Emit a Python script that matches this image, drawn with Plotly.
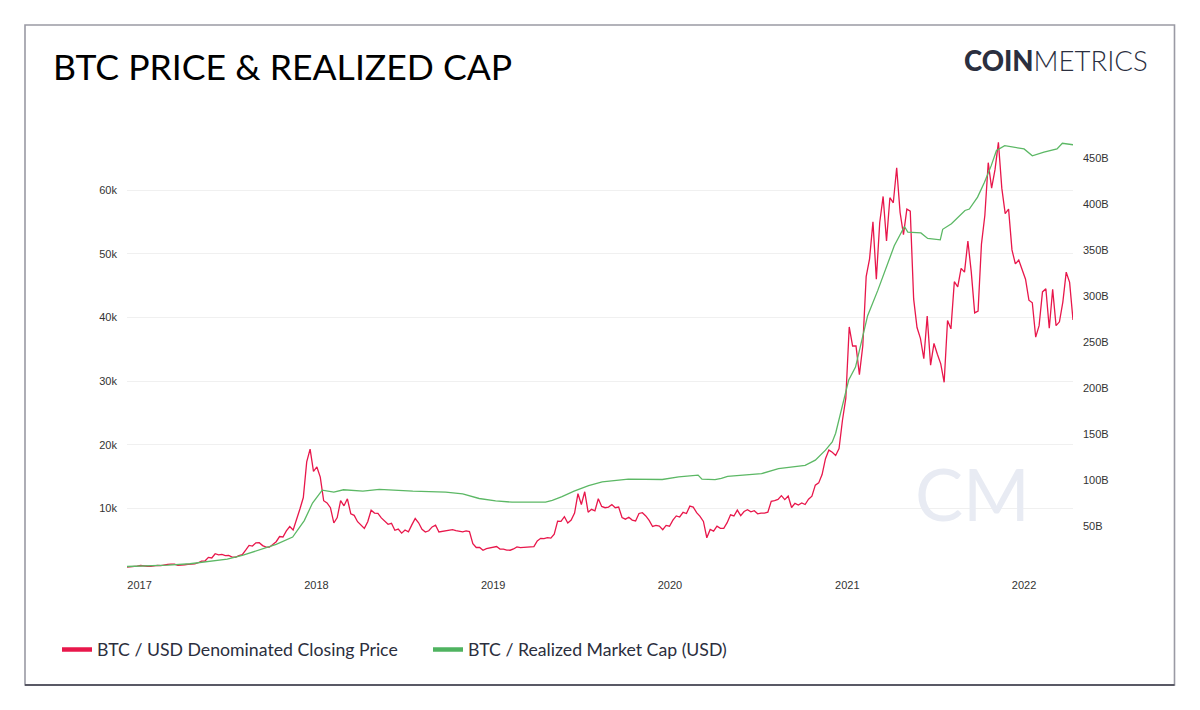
import pandas as pd
import plotly.graph_objects as go

# ---------------- data ----------------
price_start = "2016-12-06"
# weekly BTC/USD closing price (Tuesdays)
price_usd = [
    # 2016 Dec
    758, 780, 800, 930,
    # 2017
    1020, 905, 905, 890, 965, 1050, 1000, 1120, 1190, 1230, 1240, 1050, 1045,
    1140, 1200, 1210, 1280, 1450, 1720, 1730, 2290, 2200, 2870, 2680, 2760, 2580,
    2600, 2330, 2320, 2560, 2720, 3420, 4180, 4080, 4580, 4600, 4150, 3900, 3900,
    4310, 4760, 5570, 5500, 6450, 7140, 6600, 8100, 9900, 11700, 17300, 19300, 15800,
    # 2018
    16500, 14900, 11200, 10850, 10100, 7700, 8550, 11200, 10400, 11500, 9150, 8900, 7900,
    7400, 6850, 7900, 9700, 9250, 9200, 8500, 8000, 7500, 7650, 6550, 6750, 6100,
    6600, 6300, 7400, 8400, 7730, 6720, 6270, 6480, 7080, 7370, 6290, 6370, 6440,
    6570, 6640, 6490, 6410, 6310, 6470, 6350, 4450, 3850, 3850, 3410, 3670, 3740,
    # 2019
    3840, 4000, 3600, 3580, 3440, 3420, 3620, 3950, 3820, 3850, 3900, 4020, 3990,
    4880, 5290, 5230, 5400, 5320, 5950, 7990, 7950, 8700, 7700, 8150, 9260, 12300,
    10600, 12600, 9400, 9850, 9600, 11500, 10300, 10100, 10200, 10600, 10100, 10200, 8550,
    8300, 8600, 8150, 8020, 9200, 9320, 8800, 8100, 7150, 7320, 7200, 6640, 7320, 7190,
    # 2020
    8150, 8810, 8640, 9370, 9180, 10350, 10200, 9320, 8750, 7940, 5380, 6680, 6430,
    7200, 6850, 6850, 7750, 8990, 8800, 9730, 8850, 9500, 9790, 9460, 9630, 9140,
    9250, 9250, 9390, 11100, 11200, 11400, 11990, 11370, 11930, 10130, 10790, 10530, 10840,
    10600, 11430, 11900, 13650, 14000, 15300, 17800, 19150, 18800, 18300, 19400, 23800, 27300,
    # 2021
    38500, 35500, 35500, 31000, 35500, 46400, 49200, 55000, 46000, 54900, 59000, 52000, 58800,
    58000, 63500, 56500, 53000, 57000, 56700, 42900, 38400, 36700, 33500, 40200, 32500, 35900,
    34200, 32700, 29800, 39500, 38200, 45600, 44800, 47700, 47100, 52000, 47100, 40700, 41000,
    51500, 56000, 64300, 60300, 63200, 67500, 60300, 56300, 57000, 50600, 48400, 49000, 47600,
    # 2022
    46000, 42700, 42300, 36900, 38700, 44000, 44500, 38300, 44400, 38700, 39300, 42400, 47100,
    45500, 39600,
]

# realized market cap (USD billions)
rcap_dates = [
    "2016-12-06", "2017-01-15", "2017-03-01", "2017-04-15", "2017-06-01", "2017-07-01",
    "2017-08-01", "2017-09-07", "2017-10-10", "2017-11-13", "2017-12-07", "2017-12-24",
    "2018-01-13", "2018-02-06", "2018-02-26", "2018-04-07", "2018-05-11", "2018-07-19",
    "2018-09-25", "2018-10-30", "2018-12-03", "2019-01-06", "2019-02-09", "2019-04-19",
    "2019-05-03", "2019-05-23", "2019-06-17", "2019-07-17", "2019-08-14", "2019-10-07",
    "2019-12-16", "2020-01-19", "2020-02-28", "2020-03-07", "2020-04-03", "2020-04-16",
    "2020-04-29", "2020-07-08", "2020-08-12", "2020-10-06", "2020-10-27", "2020-11-17",
    "2020-12-01", "2020-12-08", "2020-12-21", "2021-01-04", "2021-01-18", "2021-01-30",
    "2021-02-12", "2021-03-05", "2021-03-25", "2021-04-08", "2021-04-29", "2021-05-06",
    "2021-06-02", "2021-06-16", "2021-07-12", "2021-07-17", "2021-08-04", "2021-09-01",
    "2021-09-10", "2021-09-27", "2021-10-11", "2021-10-25", "2021-11-05", "2021-11-22",
    "2022-01-01", "2022-01-18", "2022-02-11", "2022-03-10", "2022-03-21", "2022-04-12",
]
rcap_bn = [
    6, 6.5, 7.5, 9, 12, 14,
    18, 24, 30, 38, 56, 75,
    89, 87, 89.5, 88, 90, 88,
    87, 85, 80, 77.5, 76, 76,
    78, 82, 88, 94, 98, 101,
    100.7, 103.6, 105.4, 101, 100.5, 102,
    104, 107, 112.5, 116, 121.7, 132.6,
    141.6, 151, 180, 209, 223, 248.6,
    279, 306.5, 335.5, 355, 376, 370,
    369, 363, 361.5, 373, 379, 393.5,
    395, 408, 424, 442, 458.7, 464,
    460.5, 453, 457, 460.5, 466.6, 465,
]

price_ticks = [10000, 20000, 30000, 40000, 50000, 60000]
rcap_ticks = [50, 100, 150, 200, 250, 300, 350, 400, 450]
rcap_ticktext = ["50B", "100B", "150B", "200B", "250B", "300B", "350B", "400B", "450B"]

price_dates = pd.date_range(price_start, periods=len(price_usd), freq="7D")

RED = "#e8174b"
GREEN = "#5cb865"

# ---------------- figure ----------------
W, H = 1200, 710
L, R, T, B = 127, 127, 142, 138
pw, ph = W - L - R, H - T - B


def px(x):
    return (x - L) / pw


def py(y):
    return (H - B - y) / ph


fig = go.Figure()
fig.add_trace(go.Scatter(x=price_dates, y=price_usd, mode="lines",
                         line=dict(color=RED, width=1.3), showlegend=False,
                         name="BTC / USD Denominated Closing Price", yaxis="y"))
fig.add_trace(go.Scatter(x=pd.to_datetime(rcap_dates), y=rcap_bn, mode="lines",
                         line=dict(color=GREEN, width=1.3), showlegend=False,
                         name="BTC / Realized Market Cap (USD)", yaxis="y2"))
# legend entries (thicker swatches)
fig.add_trace(go.Scatter(x=[None], y=[None], mode="lines",
                         line=dict(color=RED, width=4.5),
                         name="BTC / USD Denominated Closing Price"))
fig.add_trace(go.Scatter(x=[None], y=[None], mode="lines",
                         line=dict(color="#4fb360", width=4.5),
                         name="BTC / Realized Market Cap (USD)", yaxis="y2"))

tickfont = dict(family="Liberation Sans, Arial, sans-serif", size=11, color="#333333")

fig.update_layout(
    width=W, height=H,
    margin=dict(l=L, r=R, t=T, b=B, pad=0),
    paper_bgcolor="white", plot_bgcolor="white",
    xaxis=dict(range=[price_dates[0], price_dates[-1]], type="date",
               tick0="2017-01-01", dtick="M12", tickformat="%Y",
               showgrid=False, zeroline=False, showline=False,
               ticks="", ticklen=0, tickfont=tickfont, ticklabelstandoff=5),
    yaxis=dict(range=[0, 67550], tickvals=price_ticks, tickformat="~s",
               showgrid=True, gridcolor="#f0f0f0", gridwidth=1,
               zeroline=False, showline=False, ticks="", tickfont=tickfont,
               ticklabelstandoff=9),
    yaxis2=dict(range=[0, 468], tickvals=rcap_ticks, ticktext=rcap_ticktext,
                overlaying="y", side="right", showgrid=False,
                zeroline=False, showline=False, ticks="", tickfont=tickfont,
                ticklabelstandoff=9),
    legend=dict(orientation="h", xref="container", yref="container",
                x=57 / W, y=1 - 650 / H, xanchor="left", yanchor="middle",
                font=dict(family="Lato, sans-serif", size=17.7, color="#2b2e3d"),
                bgcolor="rgba(0,0,0,0)", entrywidth=326, entrywidthmode="pixels"),
    showlegend=True,
)

# outer frame
fig.add_shape(type="rect", xref="paper", yref="paper",
              x0=px(25), x1=px(1174.5), y0=py(685), y1=py(25),
              line=dict(color="#9a9aa4", width=1.6), layer="below")
fig.add_shape(type="line", xref="paper", yref="paper",
              x0=px(25), x1=px(1174.5), y0=py(685), y1=py(685),
              line=dict(color="#3b3b48", width=1.4))

# title
fig.add_annotation(text="BTC PRICE &amp; REALIZED CAP", xref="paper", yref="paper",
                   x=px(51), y=py(66), xanchor="left", yanchor="middle",
                   showarrow=False,
                   font=dict(family="Lato, sans-serif", size=35.6, color="#000000"))
# logo
fig.add_annotation(text="<span style='font-weight:900'>COIN</span>METRICS",
                   xref="paper", yref="paper",
                   x=px(1150), y=py(60), xanchor="right", yanchor="middle",
                   showarrow=False,
                   font=dict(family="Lato, sans-serif", size=27.5, color="#2b2f3f", weight=300))
# watermark
fig.add_annotation(text="CM", xref="paper", yref="paper",
                   x=px(972), y=py(493), xanchor="center", yanchor="middle",
                   showarrow=False,
                   font=dict(family="Lato, sans-serif", size=72, color="#e8ebf3", weight=400))

fig.write_html("out.html", post_script="document.body.style.margin='0';",
               config={"displayModeBar": False})
